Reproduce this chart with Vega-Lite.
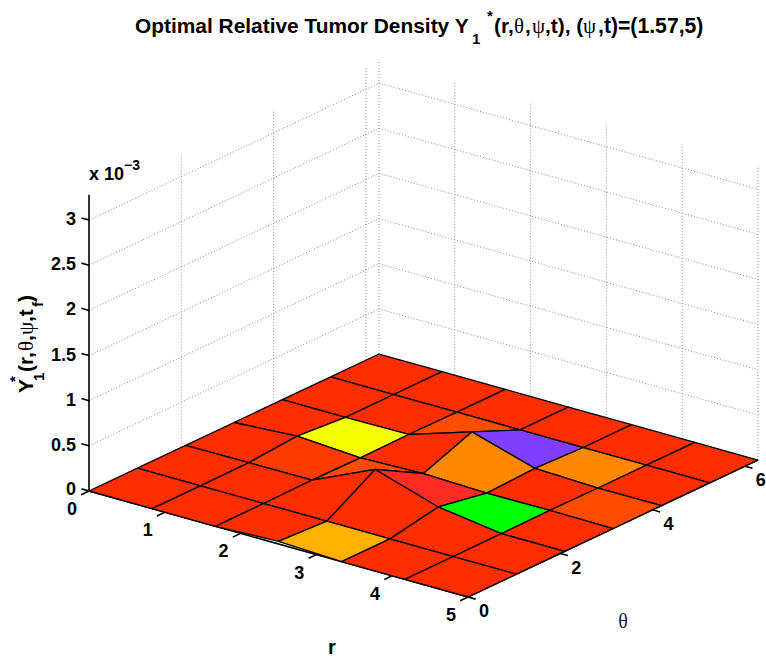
{"$schema":"https://vega.github.io/schema/vega-lite/v6.json","width":766,"height":656,"padding":0,"autosize":{"type":"none"},"background":"white",
"title":{"text":"Optimal Relative Tumor Density Y","anchor":"start","frame":"group","dx":135,"offset":-54,"baseline":"alphabetic","fontSize":20.9,"font":"Liberation Sans","fontWeight":"bold","color":"black"},
"config":{"view":{"stroke":null},"text":{"baseline":"alphabetic"}},
"datasets":{
"segments":[
{"kind":"grid","r":0,"theta":0,"z":0.5,"r2":0,"theta2":6.283,"z2":0.5},
{"kind":"grid","r":0,"theta":0,"z":1,"r2":0,"theta2":6.283,"z2":1},
{"kind":"grid","r":0,"theta":0,"z":1.5,"r2":0,"theta2":6.283,"z2":1.5},
{"kind":"grid","r":0,"theta":0,"z":2,"r2":0,"theta2":6.283,"z2":2},
{"kind":"grid","r":0,"theta":0,"z":2.5,"r2":0,"theta2":6.283,"z2":2.5},
{"kind":"grid","r":0,"theta":0,"z":3,"r2":0,"theta2":6.283,"z2":3},
{"kind":"grid","r":0,"theta":6.283,"z":0.5,"r2":5,"theta2":6.283,"z2":0.5},
{"kind":"grid","r":0,"theta":6.283,"z":1,"r2":5,"theta2":6.283,"z2":1},
{"kind":"grid","r":0,"theta":6.283,"z":1.5,"r2":5,"theta2":6.283,"z2":1.5},
{"kind":"grid","r":0,"theta":6.283,"z":2,"r2":5,"theta2":6.283,"z2":2},
{"kind":"grid","r":0,"theta":6.283,"z":2.5,"r2":5,"theta2":6.283,"z2":2.5},
{"kind":"grid","r":0,"theta":6.283,"z":3,"r2":5,"theta2":6.283,"z2":3},
{"kind":"grid","r":0,"theta":2,"z":0,"r2":0,"theta2":2,"z2":3.26},
{"kind":"grid","r":0,"theta":4,"z":0,"r2":0,"theta2":4,"z2":3.26},
{"kind":"grid","r":0,"theta":6,"z":0,"r2":0,"theta2":6,"z2":3.26},
{"kind":"grid","r":0,"theta":6.283,"z":0,"r2":0,"theta2":6.283,"z2":3.26},
{"kind":"grid","r":1,"theta":6.283,"z":0,"r2":1,"theta2":6.283,"z2":3.26},
{"kind":"grid","r":2,"theta":6.283,"z":0,"r2":2,"theta2":6.283,"z2":3.26},
{"kind":"grid","r":3,"theta":6.283,"z":0,"r2":3,"theta2":6.283,"z2":3.26},
{"kind":"grid","r":4,"theta":6.283,"z":0,"r2":4,"theta2":6.283,"z2":3.26},
{"kind":"grid","r":5,"theta":6.283,"z":0,"r2":5,"theta2":6.283,"z2":3.26},
{"kind":"axis","r":0,"theta":0,"z":0,"r2":5,"theta2":0,"z2":0},
{"kind":"axis","r":5,"theta":0,"z":0,"r2":5,"theta2":6.283,"z2":0},
{"kind":"axis","r":0,"theta":0,"z":0,"r2":0,"theta2":0,"z2":3.28},
{"kind":"axis","r":0,"theta":0,"z":0,"r2":0,"theta2":-0.17,"z2":0},
{"kind":"axis","r":1,"theta":0,"z":0,"r2":1,"theta2":-0.17,"z2":0},
{"kind":"axis","r":2,"theta":0,"z":0,"r2":2,"theta2":-0.17,"z2":0},
{"kind":"axis","r":3,"theta":0,"z":0,"r2":3,"theta2":-0.17,"z2":0},
{"kind":"axis","r":4,"theta":0,"z":0,"r2":4,"theta2":-0.17,"z2":0},
{"kind":"axis","r":5,"theta":0,"z":0,"r2":5,"theta2":-0.17,"z2":0},
{"kind":"axis","r":5,"theta":0,"z":0,"r2":5.1,"theta2":0,"z2":0},
{"kind":"axis","r":5,"theta":2,"z":0,"r2":5.1,"theta2":2,"z2":0},
{"kind":"axis","r":5,"theta":4,"z":0,"r2":5.1,"theta2":4,"z2":0},
{"kind":"axis","r":5,"theta":6,"z":0,"r2":5.1,"theta2":6,"z2":0},
{"kind":"axis","r":0,"theta":0,"z":0,"r2":-0.1,"theta2":0,"z2":0},
{"kind":"axis","r":0,"theta":0,"z":0.5,"r2":-0.1,"theta2":0,"z2":0.5},
{"kind":"axis","r":0,"theta":0,"z":1,"r2":-0.1,"theta2":0,"z2":1},
{"kind":"axis","r":0,"theta":0,"z":1.5,"r2":-0.1,"theta2":0,"z2":1.5},
{"kind":"axis","r":0,"theta":0,"z":2,"r2":-0.1,"theta2":0,"z2":2},
{"kind":"axis","r":0,"theta":0,"z":2.5,"r2":-0.1,"theta2":0,"z2":2.5},
{"kind":"axis","r":0,"theta":0,"z":3,"r2":-0.1,"theta2":0,"z2":3}
],
"surface":[
{"cell":"0-5","value":0,"r":[0,0,0.833,0.833,0],"theta":[5.236,6.283,6.283,5.236,5.236],"z":[0,0,0,0,0],"k":[0,1,2,3,4]},
{"cell":"1-5","value":0,"r":[0.833,0.833,1.667,1.667,0.833],"theta":[5.236,6.283,6.283,5.236,5.236],"z":[0,0,0,0,0],"k":[0,1,2,3,4]},
{"cell":"2-5","value":0,"r":[1.667,1.667,2.5,2.5,1.667],"theta":[5.236,6.283,6.283,5.236,5.236],"z":[0,0,0,0,0],"k":[0,1,2,3,4]},
{"cell":"3-5","value":0,"r":[2.5,2.5,3.333,3.333,2.5],"theta":[5.236,6.283,6.283,5.236,5.236],"z":[0,0,0,0,0],"k":[0,1,2,3,4]},
{"cell":"4-5","value":0,"r":[3.333,3.333,4.167,4.167,3.333],"theta":[5.236,6.283,6.283,5.236,5.236],"z":[0,0,0,0,0],"k":[0,1,2,3,4]},
{"cell":"5-5","value":0,"r":[4.167,4.167,5,5,4.167],"theta":[5.236,6.283,6.283,5.236,5.236],"z":[0,0,0,0,0],"k":[0,1,2,3,4]},
{"cell":"0-4","value":0,"r":[0,0,0.833,0.833,0],"theta":[4.189,5.236,5.236,4.189,4.189],"z":[0,0,0,0,0],"k":[0,1,2,3,4]},
{"cell":"1-4","value":0,"r":[0.833,0.833,1.667,1.667,0.833],"theta":[4.189,5.236,5.236,4.189,4.189],"z":[0,0,0,0.006,0],"k":[0,1,2,3,4]},
{"cell":"2-4","value":0.006,"r":[1.667,1.667,2.5,2.5,1.667],"theta":[4.189,5.236,5.236,4.189,4.189],"z":[0.006,0,0,0.23,0.006],"k":[0,1,2,3,4]},
{"cell":"3-4","value":0.23,"r":[2.5,2.5,3.333,3.333,2.5],"theta":[4.189,5.236,5.236,4.189,4.189],"z":[0.23,0,0,0.022,0.23],"k":[0,1,2,3,4]},
{"cell":"4-4","value":0.022,"r":[3.333,3.333,4.167,4.167,3.333],"theta":[4.189,5.236,5.236,4.189,4.189],"z":[0.022,0,0,0,0.022],"k":[0,1,2,3,4]},
{"cell":"5-4","value":0,"r":[4.167,4.167,5,5,4.167],"theta":[4.189,5.236,5.236,4.189,4.189],"z":[0,0,0,0,0],"k":[0,1,2,3,4]},
{"cell":"0-3","value":0,"r":[0,0,0.833,0.833,0],"theta":[3.142,4.189,4.189,3.142,3.142],"z":[0,0,0,0.045,0],"k":[0,1,2,3,4]},
{"cell":"1-3","value":0.045,"r":[0.833,0.833,1.667,1.667,0.833],"theta":[3.142,4.189,4.189,3.142,3.142],"z":[0.045,0,0.006,0,0.045],"k":[0,1,2,3,4]},
{"cell":"2-3","value":0,"r":[1.667,1.667,2.5,2.5,1.667],"theta":[3.142,4.189,4.189,3.142,3.142],"z":[0,0.006,0.23,0.022,0],"k":[0,1,2,3,4]},
{"cell":"3-3","value":0.022,"r":[2.5,2.5,3.333,3.333,2.5],"theta":[3.142,4.189,4.189,3.142,3.142],"z":[0.022,0.23,0.022,0,0.022],"k":[0,1,2,3,4]},
{"cell":"4-3","value":0,"r":[3.333,3.333,4.167,4.167,3.333],"theta":[3.142,4.189,4.189,3.142,3.142],"z":[0,0.022,0,0.006,0],"k":[0,1,2,3,4]},
{"cell":"5-3","value":0.006,"r":[4.167,4.167,5,5,4.167],"theta":[3.142,4.189,4.189,3.142,3.142],"z":[0.006,0,0,0,0.006],"k":[0,1,2,3,4]},
{"cell":"0-2","value":0,"r":[0,0,0.833,0.833,0],"theta":[2.094,3.142,3.142,2.094,2.094],"z":[0,0,0.045,0.003,0],"k":[0,1,2,3,4]},
{"cell":"1-2","value":0.003,"r":[0.833,0.833,1.667,1.667,0.833],"theta":[2.094,3.142,3.142,2.094,2.094],"z":[0.003,0.045,0,0.006,0.003],"k":[0,1,2,3,4]},
{"cell":"2-2","value":0.006,"r":[1.667,1.667,2.5,2.5,1.667],"theta":[2.094,3.142,3.142,2.094,2.094],"z":[0.006,0,0.022,0.32,0.006],"k":[0,1,2,3,4]},
{"cell":"3-2","value":0.32,"r":[2.5,2.5,3.333,3.333,2.5],"theta":[2.094,3.142,3.142,2.094,2.094],"z":[0.32,0.022,0,0.1,0.32],"k":[0,1,2,3,4]},
{"cell":"4-2","value":0.1,"r":[3.333,3.333,4.167,4.167,3.333],"theta":[2.094,3.142,3.142,2.094,2.094],"z":[0.1,0,0.006,0,0.1],"k":[0,1,2,3,4]},
{"cell":"5-2","value":0,"r":[4.167,4.167,5,5,4.167],"theta":[2.094,3.142,3.142,2.094,2.094],"z":[0,0.006,0,0,0],"k":[0,1,2,3,4]},
{"cell":"0-1","value":0,"r":[0,0,0.833,0.833,0],"theta":[1.047,2.094,2.094,1.047,1.047],"z":[0,0,0.003,0,0],"k":[0,1,2,3,4]},
{"cell":"1-1","value":0,"r":[0.833,0.833,1.667,1.667,0.833],"theta":[1.047,2.094,2.094,1.047,1.047],"z":[0,0.003,0.006,0,0],"k":[0,1,2,3,4]},
{"cell":"2-1","value":0,"r":[1.667,1.667,2.5,2.5,1.667],"theta":[1.047,2.094,2.094,1.047,1.047],"z":[0,0.006,0.32,0,0],"k":[0,1,2,3,4]},
{"cell":"3-1","value":0,"r":[2.5,2.5,3.333,3.333,2.5],"theta":[1.047,2.094,2.094,1.047,1.047],"z":[0,0.32,0.1,0,0],"k":[0,1,2,3,4]},
{"cell":"4-1","value":0,"r":[3.333,3.333,4.167,4.167,3.333],"theta":[1.047,2.094,2.094,1.047,1.047],"z":[0,0.1,0,0,0],"k":[0,1,2,3,4]},
{"cell":"5-1","value":0,"r":[4.167,4.167,5,5,4.167],"theta":[1.047,2.094,2.094,1.047,1.047],"z":[0,0,0,0,0],"k":[0,1,2,3,4]},
{"cell":"0-0","value":0,"r":[0,0,0.833,0.833,0],"theta":[0,1.047,1.047,0,0],"z":[0,0,0,0,0],"k":[0,1,2,3,4]},
{"cell":"1-0","value":0,"r":[0.833,0.833,1.667,1.667,0.833],"theta":[0,1.047,1.047,0,0],"z":[0,0,0,0,0],"k":[0,1,2,3,4]},
{"cell":"2-0","value":0,"r":[1.667,1.667,2.5,2.5,1.667],"theta":[0,1.047,1.047,0,0],"z":[0,0,0,0.03,0],"k":[0,1,2,3,4]},
{"cell":"3-0","value":0.03,"r":[2.5,2.5,3.333,3.333,2.5],"theta":[0,1.047,1.047,0,0],"z":[0.03,0,0,0,0.03],"k":[0,1,2,3,4]},
{"cell":"4-0","value":0,"r":[3.333,3.333,4.167,4.167,3.333],"theta":[0,1.047,1.047,0,0],"z":[0,0,0,0,0],"k":[0,1,2,3,4]},
{"cell":"5-0","value":0,"r":[4.167,4.167,5,5,4.167],"theta":[0,1.047,1.047,0,0],"z":[0,0,0,0,0],"k":[0,1,2,3,4]}
],
"floorLabels":[
{"label":"0","r":0,"theta":-0.37,"z":-0.12},
{"label":"1","r":1,"theta":-0.37,"z":-0.12},
{"label":"2","r":2,"theta":-0.37,"z":-0.12},
{"label":"3","r":3,"theta":-0.37,"z":-0.12},
{"label":"4","r":4,"theta":-0.37,"z":-0.12},
{"label":"5","r":5,"theta":-0.37,"z":-0.12},
{"label":"0","r":5.21,"theta":0,"z":-0.12},
{"label":"2","r":5.21,"theta":2,"z":-0.12},
{"label":"4","r":5.21,"theta":4,"z":-0.12},
{"label":"6","r":5.21,"theta":6,"z":-0.12}
],
"heightLabels":[
{"label":"0","r":-0.17,"theta":0,"z":-0.03},
{"label":"0.5","r":-0.17,"theta":0,"z":0.46},
{"label":"1","r":-0.17,"theta":0,"z":0.96},
{"label":"1.5","r":-0.17,"theta":0,"z":1.46},
{"label":"2","r":-0.17,"theta":0,"z":1.96},
{"label":"2.5","r":-0.17,"theta":0,"z":2.46},
{"label":"3","r":-0.17,"theta":0,"z":2.96}
]},
"layer":[
{"data":{"name":"segments"},
"transform":[{"filter":"datum.kind==='grid'"},{"calculate":"89+75.8*datum.r+46.15*datum.theta","as":"px"},{"calculate":"491+21.2*datum.r-21.8*datum.theta-90.3*datum.z","as":"py"},{"calculate":"89+75.8*datum.r2+46.15*datum.theta2","as":"px2"},{"calculate":"491+21.2*datum.r2-21.8*datum.theta2-90.3*datum.z2","as":"py2"}],
"mark":{"type":"rule","color":"#8c8c8c","strokeWidth":1,"strokeDash":[1,2]},
"encoding":{"x":{"field":"px","type":"quantitative","scale":{"domain":[0,766]},"axis":null},"y":{"field":"py","type":"quantitative","scale":{"domain":[0,656],"reverse":true},"axis":null},"x2":{"field":"px2"},"y2":{"field":"py2"}}},
{"data":{"name":"segments"},
"transform":[{"filter":"datum.kind==='axis'"},{"calculate":"89+75.8*datum.r+46.15*datum.theta","as":"px"},{"calculate":"491+21.2*datum.r-21.8*datum.theta-90.3*datum.z","as":"py"},{"calculate":"89+75.8*datum.r2+46.15*datum.theta2","as":"px2"},{"calculate":"491+21.2*datum.r2-21.8*datum.theta2-90.3*datum.z2","as":"py2"}],
"mark":{"type":"rule","color":"black","strokeWidth":1.6},
"encoding":{"x":{"field":"px","type":"quantitative","scale":{"domain":[0,766]},"axis":null},"y":{"field":"py","type":"quantitative","scale":{"domain":[0,656],"reverse":true},"axis":null},"x2":{"field":"px2"},"y2":{"field":"py2"}}},
{"data":{"name":"surface"},
"transform":[{"flatten":["r","theta","z","k"]},{"calculate":"89+75.8*datum.r+46.15*datum.theta","as":"px"},{"calculate":"491+21.2*datum.r-21.8*datum.theta-90.3*datum.z","as":"py"}],
"mark":{"type":"line","stroke":"black","strokeWidth":1.3,"strokeJoin":"round"},
"encoding":{"x":{"field":"px","type":"quantitative","scale":{"domain":[0,766]},"axis":null},"y":{"field":"py","type":"quantitative","scale":{"domain":[0,656],"reverse":true},"axis":null},"detail":{"field":"cell"},"order":{"field":"k"},
"fill":{"field":"value","type":"quantitative","scale":{"domain":[0,0.003,0.006,0.022,0.03,0.045,0.1,0.23,0.32],"range":["#FF2E00","#FF3C00","#FF4C00","#FF8800","#FFB000","#F5FF00","#00FF00","#7F3FFF","#FF2C24"]},"legend":null}}},
{"data":{"name":"floorLabels"},
"transform":[{"calculate":"89+75.8*datum.r+46.15*datum.theta","as":"px"},{"calculate":"491+21.2*datum.r-21.8*datum.theta-90.3*datum.z","as":"py"}],
"mark":{"type":"text","font":"Liberation Sans","fontWeight":"bold","fontSize":18,"align":"center","baseline":"middle","color":"black"},
"encoding":{"x":{"field":"px","type":"quantitative","scale":{"domain":[0,766]},"axis":null},"y":{"field":"py","type":"quantitative","scale":{"domain":[0,656],"reverse":true},"axis":null},"text":{"field":"label"}}},
{"data":{"name":"heightLabels"},
"transform":[{"calculate":"89+75.8*datum.r+46.15*datum.theta","as":"px"},{"calculate":"491+21.2*datum.r-21.8*datum.theta-90.3*datum.z","as":"py"}],
"mark":{"type":"text","font":"Liberation Sans","fontWeight":"bold","fontSize":18,"align":"right","baseline":"middle","color":"black"},
"encoding":{"x":{"field":"px","type":"quantitative","scale":{"domain":[0,766]},"axis":null},"y":{"field":"py","type":"quantitative","scale":{"domain":[0,656],"reverse":true},"axis":null},"text":{"field":"label"}}},
{"data":{"values":[{}]},"mark":{"type":"text","text":"x 10","x":89,"y":180,"align":"left","font":"Liberation Sans","fontWeight":"bold","fontSize":18,"color":"black"}},
{"data":{"values":[{}]},"mark":{"type":"text","text":"−3","x":124,"y":170,"align":"left","font":"Liberation Sans","fontWeight":"bold","fontSize":14,"color":"black"}},
{"data":{"values":[{}]},"mark":{"type":"text","text":"1","x":472,"y":44,"align":"left","font":"Liberation Sans","fontWeight":"bold","fontSize":15,"color":"black"}},
{"data":{"values":[{}]},"mark":{"type":"text","text":"*","x":487,"y":21,"align":"left","font":"Liberation Sans","fontWeight":"bold","fontSize":15,"color":"black"}},
{"data":{"values":[{}]},"mark":{"type":"text","text":"(r,","x":494,"y":33,"align":"left","font":"Liberation Sans","fontWeight":"bold","fontSize":20.9,"color":"black"}},
{"data":{"values":[{}]},"mark":{"type":"text","text":"θ","x":514,"y":33,"align":"left","font":"Liberation Serif","fontSize":20.9,"color":"black"}},
{"data":{"values":[{}]},"mark":{"type":"text","text":",","x":525,"y":33,"align":"left","font":"Liberation Sans","fontWeight":"bold","fontSize":20.9,"color":"black"}},
{"data":{"values":[{}]},"mark":{"type":"text","text":"ψ","x":532,"y":33,"align":"left","font":"Liberation Serif","fontSize":20.9,"color":"black"}},
{"data":{"values":[{}]},"mark":{"type":"text","text":",t), (","x":545,"y":33,"align":"left","font":"Liberation Sans","fontWeight":"bold","fontSize":20.9,"color":"black"}},
{"data":{"values":[{}]},"mark":{"type":"text","text":"ψ","x":583,"y":33,"align":"left","font":"Liberation Serif","fontSize":20.9,"color":"black"}},
{"data":{"values":[{}]},"mark":{"type":"text","text":",t)=(1.57,5)","x":598,"y":33,"align":"left","font":"Liberation Sans","fontWeight":"bold","fontSize":21.2,"color":"black"}},
{"data":{"values":[{}]},"mark":{"type":"text","text":"Y","x":33,"y":393,"angle":270,"align":"left","font":"Liberation Sans","fontWeight":"bold","fontSize":21,"color":"black"}},
{"data":{"values":[{}]},"mark":{"type":"text","text":"*","x":20,"y":382,"angle":270,"align":"left","font":"Liberation Sans","fontWeight":"bold","fontSize":15,"color":"black"}},
{"data":{"values":[{}]},"mark":{"type":"text","text":"1","x":44,"y":381,"angle":270,"align":"left","font":"Liberation Sans","fontWeight":"bold","fontSize":15,"color":"black"}},
{"data":{"values":[{}]},"mark":{"type":"text","text":"(r,","x":33,"y":372,"angle":270,"align":"left","font":"Liberation Sans","fontWeight":"bold","fontSize":21,"color":"black"}},
{"data":{"values":[{}]},"mark":{"type":"text","text":"θ","x":33,"y":351,"angle":270,"align":"left","font":"Liberation Serif","fontSize":21,"color":"black"}},
{"data":{"values":[{}]},"mark":{"type":"text","text":",","x":33,"y":341,"angle":270,"align":"left","font":"Liberation Sans","fontWeight":"bold","fontSize":21,"color":"black"}},
{"data":{"values":[{}]},"mark":{"type":"text","text":"ψ","x":33,"y":335,"angle":270,"align":"left","font":"Liberation Serif","fontSize":21,"color":"black"}},
{"data":{"values":[{}]},"mark":{"type":"text","text":",t","x":33,"y":322,"angle":270,"align":"left","font":"Liberation Sans","fontWeight":"bold","fontSize":21,"color":"black"}},
{"data":{"values":[{}]},"mark":{"type":"text","text":"f","x":43,"y":307,"angle":270,"align":"left","font":"Liberation Sans","fontWeight":"bold","fontSize":15,"color":"black"}},
{"data":{"values":[{}]},"mark":{"type":"text","text":")","x":33,"y":302,"angle":270,"align":"left","font":"Liberation Sans","fontWeight":"bold","fontSize":21,"color":"black"}},
{"data":{"values":[{}]},"mark":{"type":"text","text":"r","x":332,"y":654,"align":"center","font":"Liberation Sans","fontWeight":"bold","fontSize":20,"color":"black"}},
{"data":{"values":[{}]},"mark":{"type":"text","text":"θ","x":623,"y":628,"align":"center","font":"Liberation Serif","fontSize":20,"color":"#222222"}}
]}
